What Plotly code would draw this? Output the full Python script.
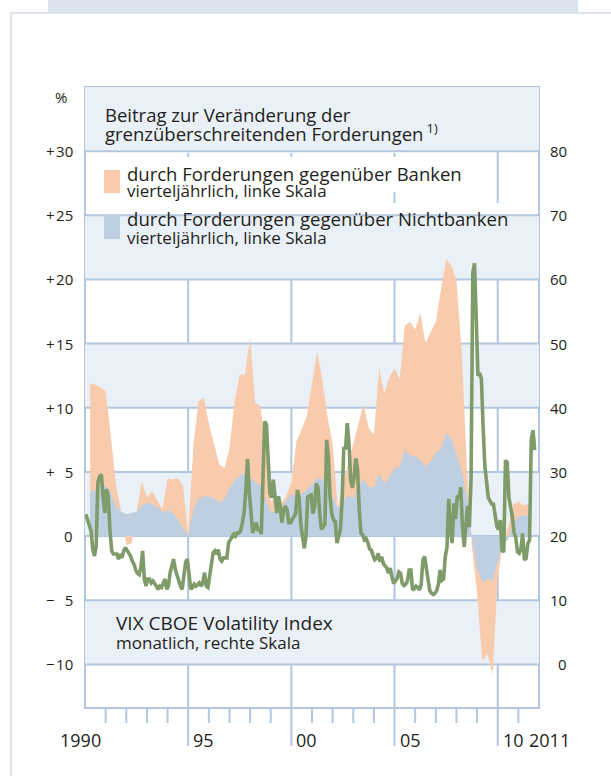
import math
import plotly.graph_objects as go

# ---------------- data ----------------
START_YEAR = 1990

# VIX CBOE Volatility Index, monthly, Jan 1990 - Oct 2011 (right scale)
VIX_MONTHLY = [
    23.4, 22.5, 21.6, 20.8, 18.0, 16.9, 18.4, 28.3, 29.3, 29.6, 26.2, 23.6,  # 1990
    27.3, 26.2, 21.0, 17.7, 17.2, 17.2, 17.2, 16.4, 17.2, 16.6, 17.7, 18.2,  # 1991
    17.7, 17.4, 16.9, 16.1, 15.6, 14.7, 14.2, 14.0, 15.1, 17.7, 13.3, 12.2,  # 1992
    13.3, 13.3, 12.7, 13.0, 12.7, 12.2, 11.7, 12.2, 12.0, 12.7, 13.3, 11.7,  # 1993
    12.2, 14.3, 15.3, 16.4, 14.8, 13.8, 13.0, 12.2, 11.7, 14.3, 15.9, 16.4,  # 1994
    13.8, 11.7, 12.0, 12.5, 12.2, 12.5, 12.7, 12.2, 12.7, 14.3, 12.2, 12.0,  # 1995
    13.8, 15.3, 17.4, 17.7, 17.2, 17.9, 16.4, 16.1, 16.6, 16.6, 16.6, 19.0,  # 1996
    19.5, 20.0, 20.3, 20.0, 20.5, 20.5, 20.8, 22.1, 23.6, 27.0, 32.0, 27.0,  # 1997
    24.0, 20.5, 21.3, 22.1, 20.8, 21.3, 20.3, 28.8, 37.9, 37.4, 31.4, 26.7,  # 1998
    26.0, 28.8, 26.2, 23.6, 26.2, 24.7, 22.1, 24.1, 24.7, 24.1, 22.1, 22.1,  # 1999
    22.6, 23.0, 23.5, 27.2, 26.0, 21.8, 19.6, 18.1, 20.0, 26.1, 26.3, 26.4,  # 2000
    23.5, 24.5, 28.2, 27.5, 23.5, 21.0, 21.5, 21.8, 35.0, 32.4, 26.1, 23.5,  # 2001
    22.5, 22.3, 18.9, 20.0, 21.0, 25.5, 33.9, 33.5, 37.6, 34.5, 28.7, 27.5,  # 2002
    29.2, 32.1, 30.3, 24.0, 20.4, 20.2, 19.4, 19.6, 19.0, 18.0, 17.8, 17.0,  # 2003
    16.3, 16.5, 17.3, 16.0, 16.8, 15.7, 15.4, 15.0, 14.2, 15.0, 13.6, 12.6,  # 2004
    13.0, 13.4, 14.4, 14.2, 12.6, 12.3, 12.5, 13.0, 14.7, 14.7, 11.6, 11.8,  # 2005
    12.2, 12.0, 11.6, 12.5, 16.3, 16.8, 15.0, 12.8, 11.5, 11.1, 10.9, 11.1,  # 2006
    11.5, 12.5, 14.7, 13.1, 13.3, 16.8, 18.3, 25.8, 21.1, 18.9, 25.1, 22.7,  # 2007
    26.3, 25.9, 27.6, 21.5, 18.3, 21.8, 24.7, 21.4, 29.0, 61.0, 62.5, 54.0,  # 2008
    45.0, 45.4, 44.5, 37.0, 31.0, 28.5, 26.0, 25.5, 25.0, 25.0, 23.5, 21.5,  # 2009
    21.0, 22.5, 17.8, 17.5, 31.8, 31.5, 26.0, 24.5, 23.0, 20.5, 19.8, 17.5,  # 2010
    17.3, 18.0, 20.4, 16.3, 16.5, 18.8, 19.4, 35.0, 36.5, 33.4,              # 2011
]

# contributions to change in cross-border claims, quarterly 1990Q1 - 2011Q2 (left scale, %)
NONBANKS = [
    3.4, 3.6, 3.9, 4.0, 3.4, 2.3, 1.9, 1.7, 1.8, 1.9,
    2.4, 2.6, 2.5, 2.3, 1.9, 2.0, 1.8, 1.3, 0.6, 0.1,
    2.0, 2.9, 3.1, 3.1, 2.9, 2.6, 2.9, 3.7, 4.3, 4.7,
    4.9, 4.6, 4.2, 3.9, 2.8, 1.9, 1.9, 2.2, 2.8, 3.3,
    3.1, 3.3, 3.6, 4.0, 4.5, 4.4, 4.2, 3.1, 2.2, 2.6,
    3.2, 2.9, 4.0, 4.4, 3.8, 3.8, 4.9, 4.1, 4.6, 5.3,
    5.4, 6.7, 6.3, 6.2, 5.9, 5.4, 5.8, 6.5, 6.8, 8.05,
    7.6, 6.4, 5.1, 3.1, -0.2, -2.5, -3.6, -3.3, -3.5, -2.0,
    -0.5, -0.3, 1.0, 1.5, 1.6, 1.6,
]
BANKS = [
    8.5, 8.2, 7.7, 7.3, 4.4, 1.7, 0.0, -0.7, -0.6, 0.0,
    1.9, 0.4, 1.0, 0.5, 0.2, 2.5, 2.6, 3.2, 3.3, 0.1,
    5.0, 7.6, 7.7, 5.7, 4.4, 3.0, 2.4, 3.1, 6.2, 7.9,
    7.7, 10.9, 6.2, 6.2, 4.2, 0.7, 1.2, 0.3, 0.3, 0.9,
    4.3, 5.0, 5.8, 7.9, 9.9, 7.8, 5.1, 4.1, 0.0, 1.5,
    2.5, 4.3, 4.8, 5.9, 4.6, 4.1, 8.2, 7.0, 7.8, 7.8,
    6.8, 9.7, 10.4, 9.9, 11.5, 9.6, 10.1, 10.2, 12.4, 13.55,
    13.5, 13.5, 9.4, 2.4, -0.6, -2.0, -6.1, -5.9, -7.3, -1.2,
    -0.1, 0.6, 1.5, 1.2, 0.8, 0.9,
]

X_LABELS = ["1990", "95", "00", "05", "10", "2011"]
X_LABEL_YEARS = [1990, 1995, 2000, 2005, 2010, 2011]
MAJOR_YEARS = [1995, 2000, 2005, 2010]
LEFT_TICKS = [30, 25, 20, 15, 10, 5, 0, -5, -10]
LEFT_TICK_TEXT = ["+\u200a30", "+\u200a25", "+\u200a20", "+\u200a15", "+\u200a10",
                  "+\u2007\u200a5", "0", "\u2212\u2007\u200a5", "\u2212\u200a10"]
RIGHT_TICKS = [80, 70, 60, 50, 40, 30, 20, 10, 0]
RIGHT_TICK_TEXT = ["80", "70", "60", "50", "40", "30", "20", "10", "0"]

# ---------------- styling ----------------
FONT = "Open Sans"
TXT = "#231f20"
BAND = "#eaf0f7"
GRID = "#b3c6df"
ORANGE = "#f9cbad"
BLUE = "#bdcfe1"
GREEN = "#7f9b6a"
FRAME = "#dde4ed"
ASC = 1.069  # Open Sans ascent (em)

W, H = 611, 776
ML, MR, MT, MB = 85, 72, 87, 68
PW, PH = W - ML - MR, H - MT - MB
X0, X1 = 1990, 2012
Y0, Y1 = -13.4, 35.0
Y2_0, Y2_1 = 2 * Y0 + 20, 2 * Y1 + 20


def px(xp):
    return (xp - ML) / PW


def py(yp):
    return (H - MB - yp) / PH


def val(yp):
    return Y1 - (yp - MT) / PH * (Y1 - Y0)


# ---------------- series positions ----------------
vix_x = [START_YEAR + (k + 0.5) / 12 for k in range(len(VIX_MONTHLY))]
q_x = [START_YEAR + 0.25 * (j + 1) for j in range(len(NONBANKS))]
orange_outline = []
for b, n in zip(BANKS, NONBANKS):
    orange_outline.append(b + n if b * n >= 0 else b)

fig = go.Figure()
fig.add_trace(go.Scatter(x=q_x, y=orange_outline, mode="lines", fill="tozeroy",
                         fillcolor=ORANGE, line=dict(width=0, color=ORANGE),
                         hoverinfo="skip", showlegend=False))
fig.add_trace(go.Scatter(x=q_x, y=NONBANKS, mode="lines", fill="tozeroy",
                         fillcolor=BLUE, line=dict(width=0, color=BLUE),
                         hoverinfo="skip", showlegend=False))
fig.add_trace(go.Scatter(x=vix_x, y=VIX_MONTHLY, mode="lines", yaxis="y2",
                         line=dict(width=3.6, color=GREEN),
                         hoverinfo="skip", showlegend=False))

shapes = []
# outer frame
shapes.append(dict(type="rect", xref="paper", yref="paper", x0=px(48), x1=px(578),
                   y0=py(12), y1=py(0), fillcolor="#dbe3ee", line=dict(width=0), layer="below"))
shapes.append(dict(type="path", xref="paper", yref="paper",
                   path=f"M {px(11)} {py(H + 5)} L {px(11)} {py(13)} L {px(W + 5)} {py(13)}",
                   line=dict(color=FRAME, width=2), layer="below"))
# bands
for lo in [30, 20, 10, 0, -10]:
    shapes.append(dict(type="rect", xref="x", yref="y", x0=X0, x1=X1, y0=lo, y1=lo + 5,
                       fillcolor=BAND, line=dict(width=0), layer="below"))
# horizontal grid
for v in range(-10, 31, 5):
    shapes.append(dict(type="line", xref="x", yref="y", x0=X0, x1=X1, y0=v, y1=v,
                       line=dict(color=GRID, width=2), layer="below"))
# vertical major lines (extend below the plot)
for yr in MAJOR_YEARS:
    shapes.append(dict(type="line", xref="x", yref="paper", x0=yr, x1=yr, y0=py(746), y1=1,
                       line=dict(color=GRID, width=2), layer="below"))
# minor year ticks
for yr in range(1991, 2012):
    if yr in MAJOR_YEARS:
        continue
    shapes.append(dict(type="line", xref="x", yref="paper", x0=yr, x1=yr, y0=py(723), y1=0,
                       line=dict(color=GRID, width=2), layer="below"))
# plot border
shapes.append(dict(type="rect", xref="paper", yref="paper", x0=0, x1=1, y0=0, y1=1,
                   line=dict(color=GRID, width=2), layer="below"))

# knock-out boxes behind the text blocks (hide grid lines)
knockouts = [
    (97, 365, 100, 127), (97, 446, 119, 153),
    (97, 475, 157, 192), (97, 336, 183, 204),
    (97, 522, 203, 231), (97, 336, 228, 249),
    (108, 345, 608, 634), (108, 310, 632, 657),
]
for (xa, xb, ya, yb) in knockouts:
    vt, vb = val(ya), val(yb)
    cuts = [vt] + [c for c in range(30, -15, -5) if vb < c < vt] + [vb]
    for a, b in zip(cuts[:-1], cuts[1:]):
        mid = (a + b) / 2
        col = BAND if math.floor(mid / 5) % 2 == 0 and mid < Y1 else "white"
        shapes.append(dict(type="rect", xref="paper", yref="y", x0=px(xa), x1=px(xb),
                           y0=b, y1=a, fillcolor=col, line=dict(width=0), layer="below"))

# legend swatches
shapes.append(dict(type="rect", xref="paper", yref="paper", x0=px(104), x1=px(120),
                   y0=py(193), y1=py(170), fillcolor=ORANGE, line=dict(width=0)))
shapes.append(dict(type="rect", xref="paper", yref="paper", x0=px(104), x1=px(120),
                   y0=py(239), y1=py(215), fillcolor=BLUE, line=dict(width=0)))

ann = []


def block(line1, line2, xp, base1, base2, size1, size2):
    """Two-line text block; baselines base1/base2 in pixels from the top."""
    gap = base2 - base1
    t = (f"<span style='font-size:{size1}px'>{line1}</span><br>"
         f"<span style='font-size:{size2}px'>{line2}</span>")
    ann.append(dict(text=t, xref="paper", yref="paper", x=px(xp), y=py(base1 - ASC * size1),
                    xanchor="left", yanchor="top", align="left", showarrow=False,
                    borderpad=0, font=dict(family=FONT, size=gap / 1.3, color=TXT)))


block("Beitrag zur Veränderung der",
      "grenzüberschreitenden Forderungen\u2009<sup>1)</sup>", 104, 121, 140, 18.5, 18.5)
block("durch Forderungen gegenüber Banken", "vierteljährlich, linke Skala",
      126, 180, 196, 18.5, 17)
block("durch Forderungen gegenüber Nichtbanken", "vierteljährlich, linke Skala",
      126, 224.5, 242, 18.6, 17)
block("VIX CBOE Volatility Index", "monatlich, rechte Skala", 115, 629, 648, 19, 17)

ann.append(dict(text="%", xref="paper", yref="paper", x=px(68), y=py(97), xanchor="right",
                yanchor="middle", showarrow=False, borderpad=0,
                font=dict(family=FONT, size=15, color=TXT)))

for v, t in zip(LEFT_TICKS, LEFT_TICK_TEXT):
    ann.append(dict(text=t, xref="paper", yref="y", x=px(74), y=v, xanchor="right",
                    yanchor="middle", showarrow=False, borderpad=0,
                    font=dict(family=FONT, size=15, color=TXT)))
for v, t in zip(RIGHT_TICKS, RIGHT_TICK_TEXT):
    ann.append(dict(text=t, xref="paper", yref="y2", x=px(568), y=v, xanchor="right",
                    yanchor="middle", showarrow=False, borderpad=0,
                    font=dict(family=FONT, size=15, color=TXT)))
for yr, t in zip(X_LABEL_YEARS, X_LABELS):
    if t == "1990":
        anchor, shift = "center", -5
    elif t == "2011":
        anchor, shift = "left", 10
    else:
        anchor, shift = "left", 4
    ann.append(dict(text=t, xref="x", yref="paper", x=yr, y=py(740), xanchor=anchor,
                    xshift=shift, yanchor="middle", showarrow=False, borderpad=0,
                    font=dict(family=FONT, size=18, color=TXT)))

fig.update_layout(
    width=W, height=H,
    margin=dict(l=ML, r=MR, t=MT, b=MB, pad=0),
    paper_bgcolor="white", plot_bgcolor="white",
    xaxis=dict(range=[X0, X1], visible=False, fixedrange=True),
    yaxis=dict(range=[Y0, Y1], visible=False, fixedrange=True),
    yaxis2=dict(range=[Y2_0, Y2_1], overlaying="y", side="right", visible=False,
                fixedrange=True),
    shapes=shapes, annotations=ann, showlegend=False,
)

fig.write_html("out.html", config={"displayModeBar": False},
               post_script="document.body.style.margin='0';"
                           "document.body.style.overflow='hidden';")
